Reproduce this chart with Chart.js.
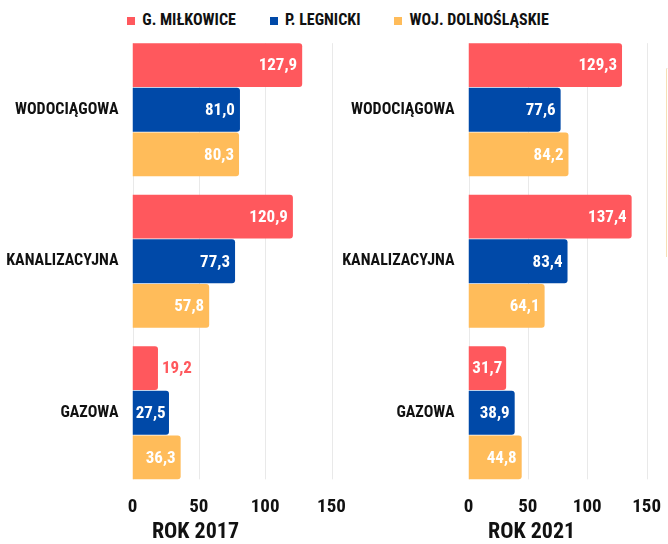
<!DOCTYPE html>
<html lang="pl">
<head>
<meta charset="utf-8">
<title>Sieć wodociągowa, kanalizacyjna i gazowa</title>
<script src="https://cdn.jsdelivr.net/npm/chart.js@4.4.0/dist/chart.umd.min.js"></script>
<style>
  html, body { margin: 0; padding: 0; background: #fff; }
  body { width: 668px; height: 544px; position: relative; overflow: hidden; font-family: Roboto, sans-serif; }
  #legend { position: absolute; top: 10px; left: 4px; width: 668px; display: flex;
            justify-content: center; gap: 34px; font-weight: bold; font-stretch: 75%;
            font-size: 16px; color: #111; }
  #legend .box { display: inline-block; width: 8px; height: 8px; margin-right: 7px; }
  canvas { position: absolute; top: 0; }
  #c2017 { left: 0; }
  #c2021 { left: 336px; }
  #edge { position: absolute; left: 666px; top: 68px; width: 6px; height: 188px;
          border-left: 1px solid #f6dfb6; border-top: 1px solid #f3f3f3; }
</style>
</head>
<body>
<div id="legend"></div>
<canvas id="c2017" width="360" height="544"></canvas>
<canvas id="c2021" width="332" height="544"></canvas>
<div id="edge"></div>
<script>
// gęstość sieci (km / 100 km2)
var categories = ['WODOCIĄGOWA', 'KANALIZACYJNA', 'GAZOWA'];
var seriesNames = ['G. MIŁKOWICE', 'P. LEGNICKI', 'WOJ. DOLNOŚLĄSKIE'];
var seriesColors = ['#ff585d', '#0049a8', '#ffbc5a'];

var milkowice2017 = [127.9, 120.9, 19.2];
var legnicki2017 = [81.0, 77.3, 27.5];
var dolnoslaskie2017 = [80.3, 57.8, 36.3];

var milkowice2021 = [129.3, 137.4, 31.7];
var legnicki2021 = [77.6, 83.4, 38.9];
var dolnoslaskie2021 = [84.2, 64.1, 44.8];

var xTicks = [0, 50, 100, 150];

var FONT = 'Roboto, sans-serif';
var WEIGHT = 'bold condensed';

// legenda wspólna dla obu wykresów
var legend = document.getElementById('legend');
seriesNames.forEach(function (name, i) {
    var item = document.createElement('span');
    var box = document.createElement('span');
    box.className = 'box';
    box.style.background = seriesColors[i];
    item.appendChild(box);
    item.appendChild(document.createTextNode(name));
    legend.appendChild(item);
});

function fmt(v) {
    return v.toFixed(1).replace('.', ',');
}

// linie siatki tylko na wysokości słupków
var gridLines = {
    id: 'gridLines',
    beforeDatasetsDraw: function (chart) {
        var first = chart.getDatasetMeta(0).data[0];
        var lastMeta = chart.getDatasetMeta(chart.data.datasets.length - 1);
        var last = lastMeta.data[lastMeta.data.length - 1];
        var top = first.y - first.height / 2;
        var bottom = last.y + last.height / 2;
        var ctx = chart.ctx;
        var x = chart.scales.x;
        ctx.save();
        ctx.strokeStyle = '#e9e9e9';
        ctx.lineWidth = 1;
        x.ticks.forEach(function (t) {
            var px = Math.round(x.getPixelForValue(t.value)) + 0.5;
            ctx.beginPath();
            ctx.moveTo(px, top);
            ctx.lineTo(px, bottom);
            ctx.stroke();
        });
        ctx.restore();
    }
};

// wartości przy końcach słupków
var valueLabels = {
    id: 'valueLabels',
    afterDatasetsDraw: function (chart) {
        var ctx = chart.ctx;
        ctx.save();
        ctx.font = WEIGHT + ' 17px ' + FONT;
        ctx.textBaseline = 'middle';
        chart.data.datasets.forEach(function (ds, di) {
            chart.getDatasetMeta(di).data.forEach(function (bar, i) {
                var text = fmt(ds.data[i]);
                var w = ctx.measureText(text).width;
                var barW = bar.x - bar.base;
                if (w + 4 <= barW) {
                    var inset = Math.min(5, (barW - w) / 2);
                    ctx.fillStyle = '#fff';
                    ctx.textAlign = 'right';
                    ctx.fillText(text, bar.x - inset, bar.y + 1);
                } else {
                    ctx.fillStyle = ds.backgroundColor;
                    ctx.textAlign = 'left';
                    ctx.fillText(text, bar.x + 4, bar.y + 1);
                }
            });
        });
        ctx.restore();
    }
};

// podpis panelu pod osią
var panelTitle = {
    id: 'panelTitle',
    afterDraw: function (chart, args, opts) {
        var ctx = chart.ctx;
        ctx.save();
        ctx.font = WEIGHT + ' 22px ' + FONT;
        ctx.fillStyle = '#111';
        ctx.textAlign = 'center';
        ctx.textBaseline = 'middle';
        ctx.fillText(opts.text, opts.x, chart.height - 12);
        ctx.restore();
    }
};

function makeChart(id, title, values, titleX, padRight) {
    var ctx = document.getElementById(id).getContext('2d');
    return new Chart(ctx, {
        type: 'bar',
        data: {
            labels: categories,
            datasets: values.map(function (v, i) {
                return {
                    label: seriesNames[i],
                    data: v,
                    backgroundColor: seriesColors[i],
                    borderRadius: 3,
                    categoryPercentage: 0.885,
                    barPercentage: 0.98
                };
            })
        },
        options: {
            indexAxis: 'y',
            responsive: false,
            animation: false,
            layout: { padding: { top: 34, left: 0, right: padRight, bottom: 0 } },
            plugins: {
                legend: { display: false },
                tooltip: { enabled: false },
                panelTitle: { text: title, x: titleX }
            },
            scales: {
                x: {
                    min: 0,
                    max: 150,
                    afterBuildTicks: function (scale) {
                        scale.ticks = xTicks.map(function (v) { return { value: v }; });
                    },
                    afterFit: function (scale) { scale.height = 55.5; },
                    grid: { display: false, drawTicks: false },
                    border: { display: false },
                    ticks: {
                        padding: 7,
                        color: '#111',
                        font: { family: FONT, size: 19, weight: WEIGHT }
                    }
                },
                y: {
                    afterFit: function (scale) { scale.width = 132.5; },
                    grid: { display: false, drawTicks: false },
                    border: { display: false },
                    ticks: {
                        padding: 14,
                        color: '#111',
                        font: { family: FONT, size: 16, weight: WEIGHT }
                    }
                }
            }
        },
        plugins: [gridLines, valueLabels, panelTitle]
    });
}

makeChart('c2017', 'ROK 2017',
    [milkowice2017, legnicki2017, dolnoslaskie2017], 195.5, 28.5);

makeChart('c2021', 'ROK 2021',
    [milkowice2021, legnicki2021, dolnoslaskie2021], 195.6, 16);
</script>
</body>
</html>
